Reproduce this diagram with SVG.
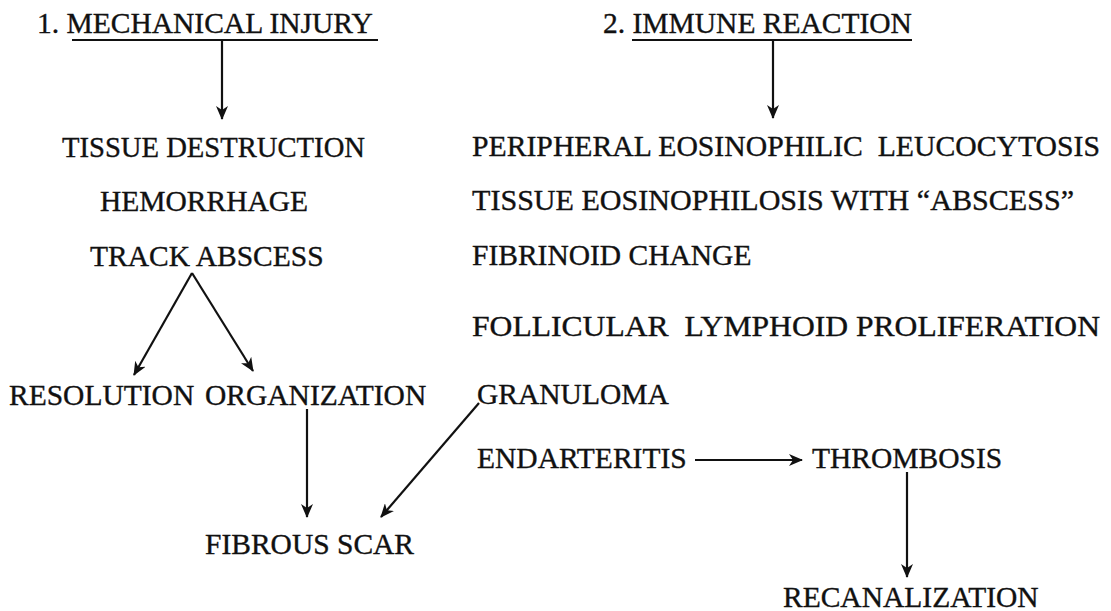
<svg xmlns="http://www.w3.org/2000/svg" width="1111" height="611" viewBox="0 0 1111 611">
<style>
text{font-family:"Liberation Serif","Times New Roman",serif;font-size:29.5px;fill:#111;stroke:#111;stroke-width:0.35;white-space:pre}
.ln{stroke:#111;stroke-width:2.2;fill:none}
</style>
<defs>
<marker id="ah" viewBox="0 0 14 12" refX="13" refY="6" markerWidth="14" markerHeight="12" markerUnits="userSpaceOnUse" orient="auto">
<path d="M0,0 L14,6 L0,12 L4,6 z" fill="#111"/>
</marker>
</defs>
<rect width="1111" height="611" fill="#fff"/>
<g id="n-mech"><text x="37" y="33">1. MECHANICAL INJURY</text><line class="ln" x1="72" y1="40" x2="378" y2="40"/></g>
<g id="n-immune"><text x="603" y="33">2. IMMUNE REACTION</text><line class="ln" x1="632" y1="40" x2="912" y2="40"/></g>
<g id="n-tissue"><text x="62" y="157" textLength="303" lengthAdjust="spacingAndGlyphs">TISSUE DESTRUCTION</text></g>
<g id="n-hem"><text x="100" y="211">HEMORRHAGE</text></g>
<g id="n-track"><text x="90" y="266">TRACK ABSCESS</text></g>
<g id="n-resol"><text x="9" y="405">RESOLUTION</text></g>
<g id="n-org"><text x="205" y="405">ORGANIZATION</text></g>
<g id="n-scar"><text x="205" y="554">FIBROUS SCAR</text></g>
<g id="n-periph"><text x="472" y="156" textLength="628" lengthAdjust="spacingAndGlyphs">PERIPHERAL EOSINOPHILIC  LEUCOCYTOSIS</text></g>
<g id="n-teos"><text x="472" y="210" textLength="602" lengthAdjust="spacingAndGlyphs">TISSUE EOSINOPHILOSIS WITH “ABSCESS”</text></g>
<g id="n-fibr"><text x="472" y="265">FIBRINOID CHANGE</text></g>
<g id="n-foll"><text x="472" y="336" textLength="628" lengthAdjust="spacingAndGlyphs">FOLLICULAR  LYMPHOID PROLIFERATION</text></g>
<g id="n-gran"><text x="477" y="404">GRANULOMA</text></g>
<g id="n-endo"><text x="477" y="468">ENDARTERITIS</text></g>
<g id="n-thromb"><text x="812" y="468">THROMBOSIS</text></g>
<g id="n-recan"><text x="783" y="607">RECANALIZATION</text></g>
<g id="connectors">
<line class="ln" x1="222" y1="40" x2="222" y2="119" marker-end="url(#ah)"/>
<line class="ln" x1="773" y1="40" x2="773" y2="118" marker-end="url(#ah)"/>
<line class="ln" x1="192" y1="273" x2="134" y2="375" marker-end="url(#ah)"/>
<line class="ln" x1="192" y1="273" x2="253" y2="371" marker-end="url(#ah)"/>
<line class="ln" x1="307" y1="409" x2="307" y2="517" marker-end="url(#ah)"/>
<line class="ln" x1="479" y1="403" x2="381" y2="517" marker-end="url(#ah)"/>
<line class="ln" x1="695" y1="460" x2="802" y2="460" marker-end="url(#ah)"/>
<line class="ln" x1="907" y1="472" x2="907" y2="577" marker-end="url(#ah)"/>
</g>
</svg>
